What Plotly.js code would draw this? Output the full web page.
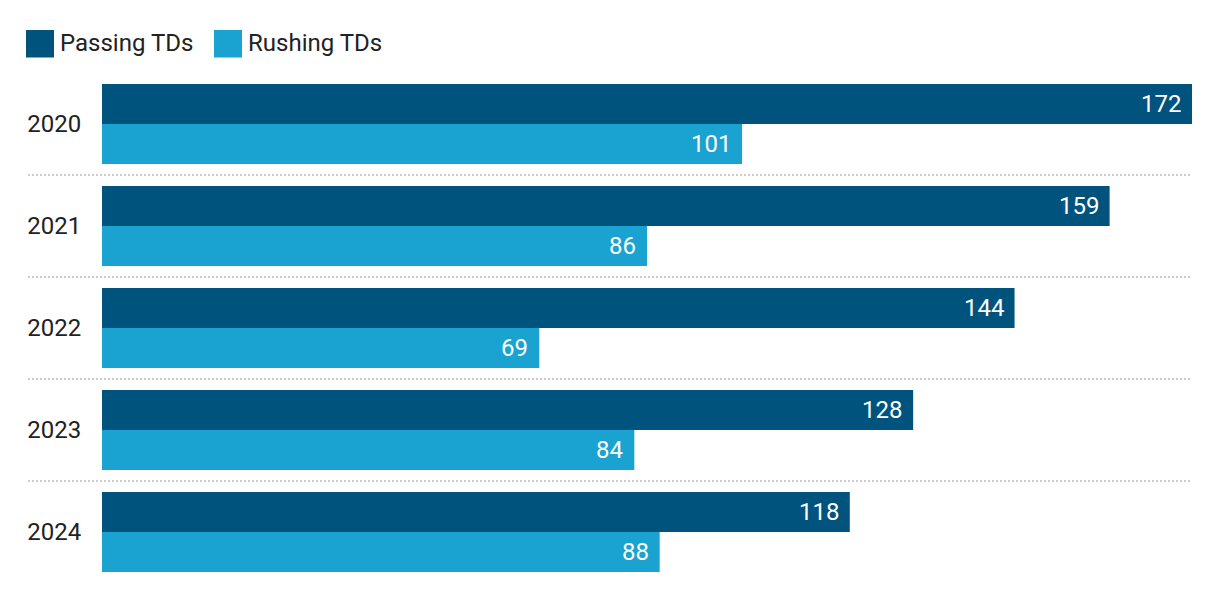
<!DOCTYPE html>
<html>
<head>
<meta charset="utf-8">
<script src="https://cdn.plot.ly/plotly-3.0.1.min.js"></script>
<style>
html,body{margin:0;padding:0;background:#fff;}
#chart{width:1220px;height:600px;}
</style>
</head>
<body>
<div id="chart"></div>
<script>
const years = ["2020", "2021", "2022", "2023", "2024"];
const passingTDs = [172, 159, 144, 128, 118];
const rushingTDs = [101, 86, 69, 84, 88];
const seriesNames = ["Passing TDs", "Rushing TDs"];
const seriesColors = ["#00537c", "#1aa2d0"];

const FONT = "Roboto, 'Open Sans', sans-serif";
const FS = 24;

const traces = [
  {type: "bar", orientation: "h", name: seriesNames[0], y: years, x: passingTDs,
   marker: {color: seriesColors[0]}, hoverinfo: "x", showlegend: false},
  {type: "bar", orientation: "h", name: seriesNames[1], y: years, x: rushingTDs,
   marker: {color: seriesColors[1]}, hoverinfo: "x", showlegend: false}
];

const bargap = 0.216;
const barW = (1 - bargap) / 2; // category units per bar
const annotations = [];
const allSeries = [passingTDs, rushingTDs];
allSeries.forEach((vals, s) => {
  vals.forEach((v, i) => {
    annotations.push({
      x: v, y: i + (s === 0 ? -barW / 2 : barW / 2), xref: "x", yref: "y",
      text: String(v), showarrow: false, xanchor: "right", yanchor: "middle",
      xshift: -9, font: {family: FONT, size: FS, color: "#ffffff"}
    });
  });
});

// legend (custom, larger swatches)
const shapes = [];
const legendX = [-76, 112];
seriesNames.forEach((n, s) => {
  shapes.push({type: "rect", xref: "paper", yref: "paper",
    xsizemode: "pixel", ysizemode: "pixel", xanchor: 0, yanchor: 1,
    x0: legendX[s], x1: legendX[s] + 28, y0: 15.5, y1: 43,
    fillcolor: seriesColors[s], line: {width: 0}});
  annotations.push({xref: "paper", yref: "paper", x: 0, y: 1,
    xshift: legendX[s] + 32, yshift: 30, xanchor: "left", yanchor: "middle",
    text: n, showarrow: false, font: {family: FONT, size: FS, color: "#222222"}});
});

// dotted separators between categories
for (let i = 0; i < years.length - 1; i++) {
  shapes.push({type: "line", xref: "paper", yref: "y",
    x0: -74 / 1090, x1: 1, y0: i + 0.5, y1: i + 0.5,
    line: {color: "#cccccc", width: 2, dash: "2px,2px"}});
}

const layout = {
  width: 1220, height: 600,
  margin: {l: 102, r: 28, t: 73, b: 17, pad: 0},
  paper_bgcolor: "#ffffff", plot_bgcolor: "#ffffff",
  barmode: "group", bargap: bargap, bargroupgap: 0,
  showlegend: false,
  font: {family: FONT, size: FS, color: "#222222"},
  xaxis: {range: [0, 172], showgrid: false, zeroline: false, showticklabels: false,
          showline: false, ticks: "", fixedrange: true},
  yaxis: {type: "category", autorange: "reversed", showgrid: false, zeroline: false, showline: false,
          ticks: "outside", ticklen: 15, tickcolor: "rgba(0,0,0,0)",
          tickfont: {family: FONT, size: FS, color: "#222222"}, fixedrange: true},
  annotations: annotations, shapes: shapes
};

Plotly.newPlot("chart", traces, layout, {displayModeBar: false, staticPlot: true});
</script>
</body>
</html>
